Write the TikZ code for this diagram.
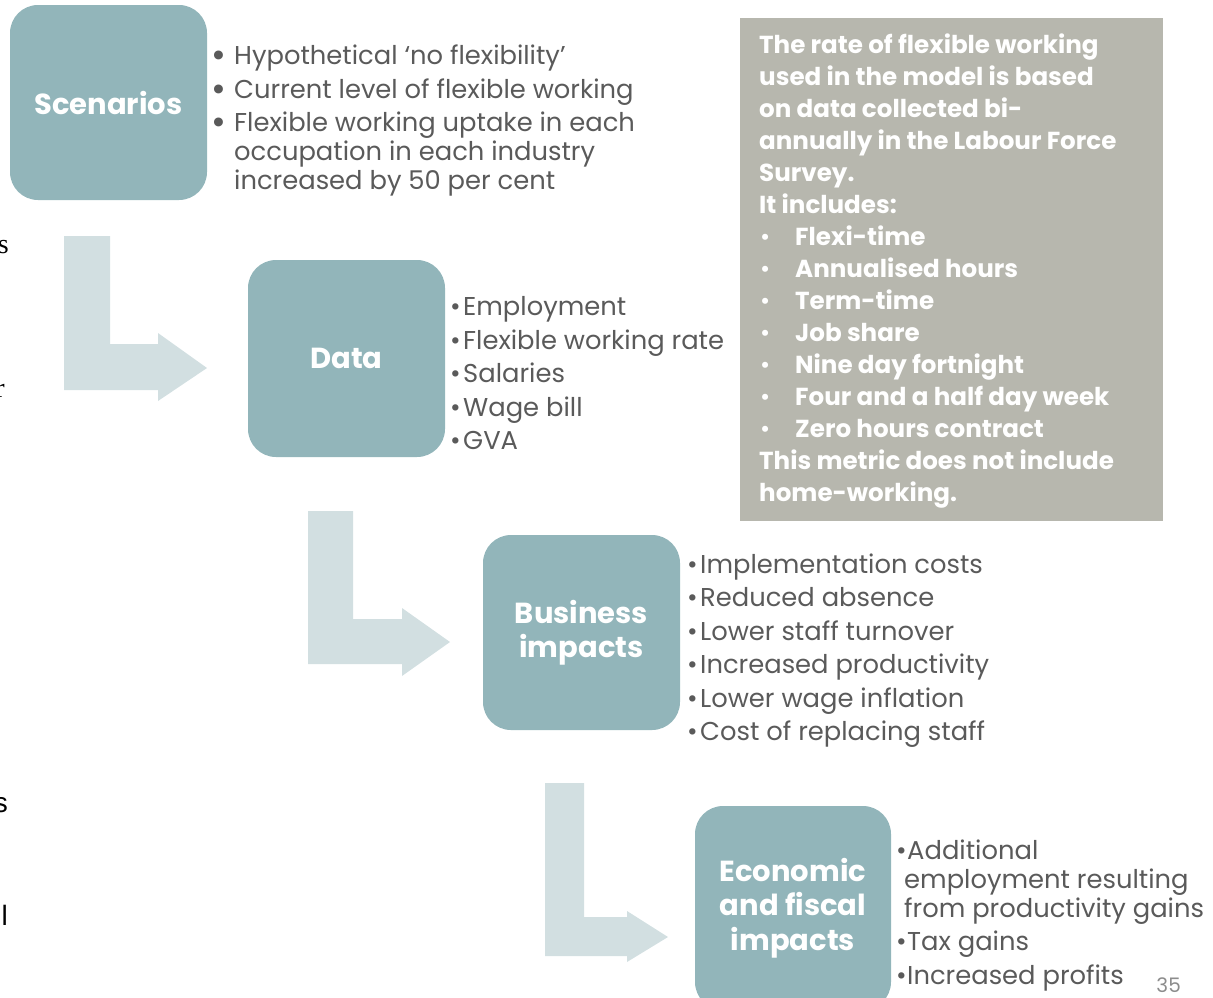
\documentclass[tikz,border=0pt]{standalone}
\usepackage{fontspec}
\setmainfont{Poppins}
\newfontfamily\serifpart{Liberation Serif}
\newfontfamily\sanspart{Liberation Sans}
\definecolor{teal}{HTML}{92B5BA}
\definecolor{arrowfill}{HTML}{D2DFE1}
\definecolor{notegray}{HTML}{B7B7AE}
\definecolor{textgray}{HTML}{5A5A5A}
\definecolor{pagegray}{HTML}{8C8C8C}
\tikzset{
  stagebox/.style={fill=teal, draw=none, rounded corners=28pt, text=white, align=center,
    font=\fontsize{29}{34.5}\selectfont\bfseries, inner sep=0pt},
  listtxt/.style={anchor=base west, inner sep=0pt, text=textgray, font=\fontsize{25.8}{30}\selectfont},
  notetxt/.style={anchor=base west, inner sep=0pt, text=white, font=\fontsize{24.6}{32}\selectfont\bfseries},
  blockarrow/.style={fill=arrowfill, draw=none},
  cuttxt/.style={anchor=base east, inner sep=0pt, text=black, font=\fontsize{26}{30}\selectfont}
}
\newcommand{\bigbul}{\raisebox{-3pt}{\scalebox{1.4}{•}}}
\begin{document}
\begin{tikzpicture}[x=1pt,y=-1pt]
\useasboundingbox (0,0) rectangle (1213,997);
% block arrows
\fill[blockarrow] (64,236) -- (110,236) -- (110,344) -- (158,344) -- (158,333) -- (207,368)
  -- (158,401) -- (158,390) -- (64,390) -- cycle;
\fill[blockarrow] (308,511) -- (353,511) -- (353,619) -- (402,619) -- (402,608) -- (450,642)
  -- (402,676) -- (402,664) -- (308,664) -- cycle;
\fill[blockarrow] (545,783) -- (584,783) -- (584,917) -- (627,917) -- (627,911) -- (668,937)
  -- (627,962) -- (627,956) -- (545,956) -- cycle;
% stage boxes
\node[stagebox, minimum width=197pt, minimum height=195pt] (scen) at (108.5,102.5) {Scenarios};
\node[stagebox, minimum width=197pt, minimum height=197pt] (data) at (346.5,358.5) {Data};
\node[stagebox, minimum width=197pt, minimum height=195pt] (bus) at (581.5,632.5) {Business\\impacts};
\node[stagebox, minimum width=196pt, minimum height=204pt] (econ) at (793,908) {Economic\\and fiscal\\impacts};
% scenarios list
\node[listtxt] (s1) at (211,64) {\makebox[23pt][l]{\bigbul}Hypothetical `no flexibility'};
\node[listtxt] (s2) at (211,98) {\makebox[23pt][l]{\bigbul}Current level of flexible working};
\node[listtxt] (s3) at (211,131) {\makebox[23pt][l]{\bigbul}Flexible working uptake in each};
\node[listtxt] (s4) at (234,160) {occupation in each industry};
\node[listtxt] (s5) at (234,189) {increased by 50 per cent};
% data list
\node[listtxt] (d1) at (450,315) {\makebox[13pt][l]{•}Employment};
\node[listtxt] (d2) at (450,349) {\makebox[13pt][l]{•}Flexible working rate};
\node[listtxt] (d3) at (450,382) {\makebox[13pt][l]{•}Salaries};
\node[listtxt] (d4) at (450,416) {\makebox[13pt][l]{•}Wage bill};
\node[listtxt] (d5) at (450,449) {\makebox[13pt][l]{•}GVA};
% business list
\node[listtxt] (b1) at (687,573) {\makebox[13pt][l]{•}Implementation costs};
\node[listtxt] (b2) at (687,606) {\makebox[13pt][l]{•}Reduced absence};
\node[listtxt] (b3) at (687,640) {\makebox[13pt][l]{•}Lower staff turnover};
\node[listtxt] (b4) at (687,673) {\makebox[13pt][l]{•}Increased productivity};
\node[listtxt] (b5) at (687,707) {\makebox[13pt][l]{•}Lower wage inflation};
\node[listtxt] (b6) at (687,740) {\makebox[13pt][l]{•}Cost of replacing staff};
% economic list
\node[listtxt] (e1) at (896,859) {\makebox[11pt][l]{•}Additional};
\node[listtxt] (e2) at (904,888) {employment resulting};
\node[listtxt] (e3) at (904,917) {from productivity gains};
\node[listtxt] (e4) at (896,950) {\makebox[11pt][l]{•}Tax gains};
\node[listtxt] (e5) at (896,984) {\makebox[11pt][l]{•}Increased profits};
% note box
\node[fill=notegray, draw=none, minimum width=423pt, minimum height=503pt, inner sep=0pt] (note) at (951.5,269.5) {};
\node[notetxt] (n1) at (759,53) {The rate of flexible working};
\node[notetxt] (n2) at (759,85) {used in the model is based};
\node[notetxt] (n3) at (759,117) {on data collected bi-};
\node[notetxt] (n4) at (759,149) {annually in the Labour Force};
\node[notetxt] (n5) at (759,181) {Survey.};
\node[notetxt] (n6) at (759,213) {It includes:};
\node[notetxt] (n7) at (759,245) {\makebox[36pt][l]{\hspace{1pt}\mdseries•}Flexi-time};
\node[notetxt] (n8) at (759,277) {\makebox[36pt][l]{\hspace{1pt}\mdseries•}Annualised hours};
\node[notetxt] (n9) at (759,309) {\makebox[36pt][l]{\hspace{1pt}\mdseries•}Term-time};
\node[notetxt] (n10) at (759,341) {\makebox[36pt][l]{\hspace{1pt}\mdseries•}Job share};
\node[notetxt] (n11) at (759,373) {\makebox[36pt][l]{\hspace{1pt}\mdseries•}Nine day fortnight};
\node[notetxt] (n12) at (759,405) {\makebox[36pt][l]{\hspace{1pt}\mdseries•}Four and a half day week};
\node[notetxt] (n13) at (759,437) {\makebox[36pt][l]{\hspace{1pt}\mdseries•}Zero hours contract};
\node[notetxt] (n14) at (759,469) {This metric does not include};
\node[notetxt] (n15) at (759,501) {home-working.};
% page number
\node[anchor=base east, inner sep=0pt, text=pagegray, font=\fontsize{20}{24}\selectfont] (pg) at (1181,992) {35};
% cut-off text at the left edge
\node[cuttxt, font=\fontsize{28}{30}\selectfont\serifpart] (c1) at (9,253) {s};
\node[cuttxt, font=\fontsize{28}{30}\selectfont\serifpart] (c2) at (5,397) {r};
\node[cuttxt, font=\fontsize{28}{30}\selectfont\sanspart] (c3) at (8,812) {s};
\node[cuttxt, font=\fontsize{28}{30}\selectfont\sanspart] (c4) at (8,925) {ul};
\end{tikzpicture}
\end{document}
